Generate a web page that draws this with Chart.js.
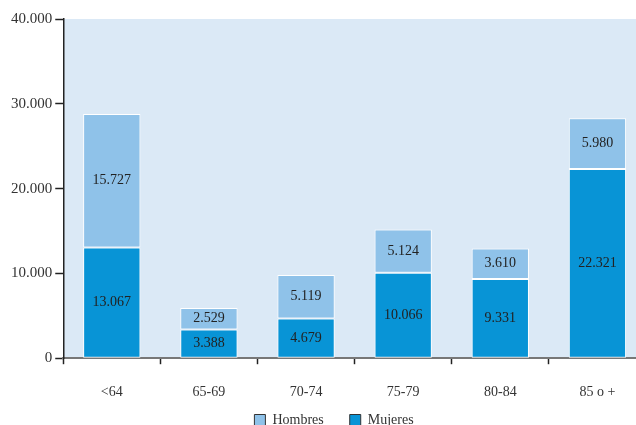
<!DOCTYPE html>
<html>
<head>
<meta charset="utf-8">
<script src="https://cdn.jsdelivr.net/npm/chart.js@4"></script>
<style>
  html, body { margin: 0; padding: 0; background: #fff; overflow: hidden; }
  #wrap { width: 646px; height: 425px; position: relative; }
</style>
</head>
<body>
<div id="wrap"><canvas id="grafico"></canvas></div>
<script>
const categorias = ["<64", "65-69", "70-74", "75-79", "80-84", "85 o +"];
const mujeres = [13067, 3388, 4679, 10066, 9331, 22321];
const hombres = [15727, 2529, 5119, 5124, 3610, 5980];
const ticksY = [0, 10000, 20000, 30000, 40000];

const colorMujeres = "#0894d6";
const colorHombres = "#8fc2e9";
const fondo = "#dbe9f6";
const fuente = "'Liberation Serif', 'Times New Roman', serif";

// formato con punto de miles
function miles(v) {
  return String(Math.round(v)).replace(/\B(?=(\d{3})+(?!\d))/g, ".");
}

const fondoPlugin = {
  id: "fondo",
  beforeDraw(chart) {
    const a = chart.chartArea;
    const c = chart.ctx;
    c.save();
    c.fillStyle = fondo;
    c.fillRect(a.left, a.top, a.right - a.left, a.bottom - a.top);
    c.restore();
  }
};

// la leyenda va un poco a la derecha, como en el original
const leyendaPlugin = {
  id: "moverLeyenda",
  afterLayout(chart) {
    if (chart.legend) {
      chart.legend.left += 7;
      chart.legend.right += 7;
    }
  }
};

const etiquetasPlugin = {
  id: "etiquetas",
  afterDatasetsDraw(chart) {
    const c = chart.ctx;
    c.save();
    c.font = "14px " + fuente;
    c.fillStyle = "#222";
    c.textAlign = "center";
    c.textBaseline = "middle";
    chart.data.datasets.forEach((ds, i) => {
      chart.getDatasetMeta(i).data.forEach((bar, j) => {
        const y = (bar.y + bar.base) / 2;
        c.fillText(miles(ds.data[j]), bar.x, y);
      });
    });
    c.restore();
  }
};

const ctx = document.getElementById("grafico").getContext("2d");
new Chart(ctx, {
  type: "bar",
  data: {
    labels: categorias,
    datasets: [
      {
        label: "Mujeres",
        data: mujeres,
        backgroundColor: colorMujeres,
        borderColor: "#fff",
        borderWidth: 1,
        borderSkipped: false
      },
      {
        label: "Hombres",
        data: hombres,
        backgroundColor: colorHombres,
        borderColor: "#fff",
        borderWidth: 1,
        borderSkipped: false
      }
    ]
  },
  options: {
    responsive: true,
    maintainAspectRatio: false,
    animation: false,
    layout: { padding: { top: 19, left: 8, right: 0, bottom: -12 } },
    datasets: { bar: { categoryPercentage: 1, barPercentage: 0.59 } },
    plugins: {
      tooltip: { enabled: false },
      legend: {
        position: "bottom",
        reverse: true,
        labels: {
          font: { family: fuente, size: 14 },
          color: "#333",
          boxWidth: 11,
          boxHeight: 11,
          padding: 12,
          generateLabels(chart) {
            return chart.data.datasets.map((ds, i) => ({
              // espacios extra para separar las dos entradas
              text: ds.label === "Hombres" ? ds.label + "    " : ds.label,
              fillStyle: ds.backgroundColor,
              strokeStyle: "#333",
              lineWidth: 1,
              datasetIndex: i,
              fontColor: "#333"
            }));
          }
        }
      }
    },
    scales: {
      x: {
        stacked: true,
        border: { color: "#777", width: 2 },
        grid: { drawOnChartArea: false, tickLength: 6, color: "#222", tickWidth: 1.5 },
        ticks: { font: { family: fuente, size: 14 }, color: "#333", padding: 20 },
        afterFit(scale) {
          scale.height -= 20;
        }
      },
      y: {
        stacked: true,
        min: 0,
        max: 40000,
        afterBuildTicks(axis) {
          axis.ticks = ticksY.map(v => ({ value: v }));
        },
        border: { color: "#222", width: 1.5 },
        grid: { drawOnChartArea: false, tickLength: 8, color: "#222", tickWidth: 1.5 },
        ticks: {
          font: { family: fuente, size: 15 },
          color: "#333",
          padding: 3,
          callback: v => miles(v)
        }
      }
    }
  },
  plugins: [fondoPlugin, leyendaPlugin, etiquetasPlugin]
});
</script>
</body>
</html>
